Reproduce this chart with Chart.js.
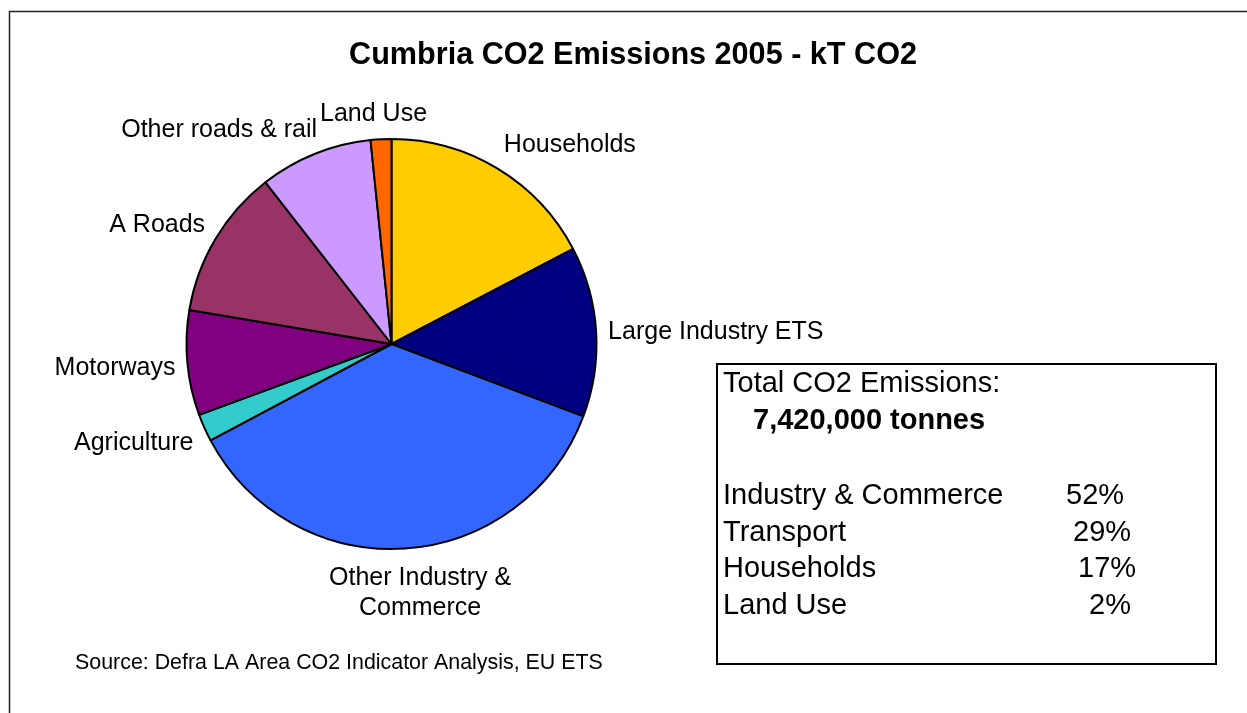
<!DOCTYPE html>
<html>
<head>
<meta charset="utf-8">
<title>Cumbria CO2 Emissions 2005</title>
<script src="https://cdn.jsdelivr.net/npm/chart.js@4"></script>
<style>
    html, body { margin: 0; padding: 0; background: #fff; }
    #wrap { width: 1247px; height: 713px; position: relative; }
</style>
</head>
<body>
<div id="wrap"><canvas id="co2Chart"></canvas></div>
<script>
// Sectors, clockwise from 12 o'clock
const sectors = ['Households', 'Large Industry ETS', ['Other Industry &', 'Commerce'], 'Agriculture',
    'Motorways', 'A Roads', 'Other roads & rail', 'Land Use'];
// kT CO2 per sector
const emissions = [1285, 996, 2706, 161, 614, 876, 661, 121];
const sectorColors = ['#FFCC00', '#000080', '#3366FF', '#33CCCC', '#800080', '#993366', '#CC99FF', '#FF6600'];
// summary grouping for the totals box
const sectorGroup = ['Households', 'Industry & Commerce', 'Industry & Commerce', 'Industry & Commerce',
    'Transport', 'Transport', 'Transport', 'Land Use'];
const summaryGroups = ['Industry & Commerce', 'Transport', 'Households', 'Land Use'];

const FONT = "'Liberation Sans', Arial, sans-serif";

const total = emissions.reduce((a, b) => a + b, 0);
const groupPct = summaryGroups.map(g => {
    let s = 0;
    emissions.forEach((v, i) => { if (sectorGroup[i] === g) s += v; });
    return Math.round(s / total * 100) + '%';
});

// frame, title, slice labels, source note and totals box
const decorations = {
    id: 'decorations',
    afterDatasetsDraw(chart) {
        const c = chart.ctx;
        c.save();

        c.strokeStyle = '#222';
        c.lineWidth = 1.5;
        c.strokeRect(9.5, 11.5, 1400, 900);

        c.fillStyle = '#000';
        c.textAlign = 'center';
        c.textBaseline = 'alphabetic';
        c.font = 'bold 30.6px ' + FONT;
        c.fillText('Cumbria CO2 Emissions 2005 - kT CO2', 633, 64);

        // labels outside each slice, placed off the mid-angle
        const size = 25, lineH = 30;
        c.font = size + 'px ' + FONT;
        const clamp = v => Math.max(-1, Math.min(1, v));
        const meta = chart.getDatasetMeta(0);
        meta.data.forEach((arc, i) => {
            const p = arc.getProps(['x', 'y', 'startAngle', 'endAngle', 'outerRadius'], true);
            const a = (p.startAngle + p.endAngle) / 2;
            const dx = Math.cos(a), dy = Math.sin(a);
            const r = p.outerRadius + 12;
            const ax = p.x + r * dx, ay = p.y + r * dy;
            const lines = [].concat(sectors[i]);
            const w = Math.max(...lines.map(l => c.measureText(l).width));
            const h = lines.length * lineH;
            const cx = ax + w / 2 * clamp(2.5 * dx);
            const cy = ay + h / 2 * clamp(1.3 * dy);
            lines.forEach((l, k) => {
                const ly = cy - h / 2 + lineH * (k + 0.5);
                c.fillText(l, cx, ly + 0.36 * size);
            });
        });

        c.textAlign = 'left';
        c.font = '21.4px ' + FONT;
        c.fillText('Source: Defra LA Area CO2 Indicator Analysis, EU ETS', 75, 669);

        // totals box
        c.strokeStyle = '#000';
        c.lineWidth = 2;
        c.strokeRect(717, 364, 499, 300);
        c.font = '29px ' + FONT;
        c.fillText('Total CO2 Emissions:', 723, 392);
        c.font = 'bold 29px ' + FONT;
        c.fillText((total * 1000).toLocaleString('en-US') + ' tonnes', 753, 429);
        c.font = '29px ' + FONT;
        const pctX = [1066, 1073, 1078, 1089];
        summaryGroups.forEach((g, i) => {
            const y = 504 + i * 36.7;
            c.fillText(g, 723, y);
            c.fillText(groupPct[i], pctX[i], y);
        });

        c.restore();
    }
};

const ctx = document.getElementById('co2Chart').getContext('2d');
const co2Chart = new Chart(ctx, {
    type: 'pie',
    data: {
        labels: sectors,
        datasets: [{
            data: emissions,
            backgroundColor: sectorColors,
            borderColor: '#000',
            borderWidth: 2,
            radius: 205
        }]
    },
    options: {
        responsive: true,
        maintainAspectRatio: false,
        animation: false,
        events: [],
        layout: {
            padding: { left: 186, right: 650, top: 138.5, bottom: 163.5 }
        },
        plugins: {
            legend: { display: false },
            title: { display: false },
            tooltip: { enabled: false }
        }
    },
    plugins: [decorations]
});
</script>
</body>
</html>
